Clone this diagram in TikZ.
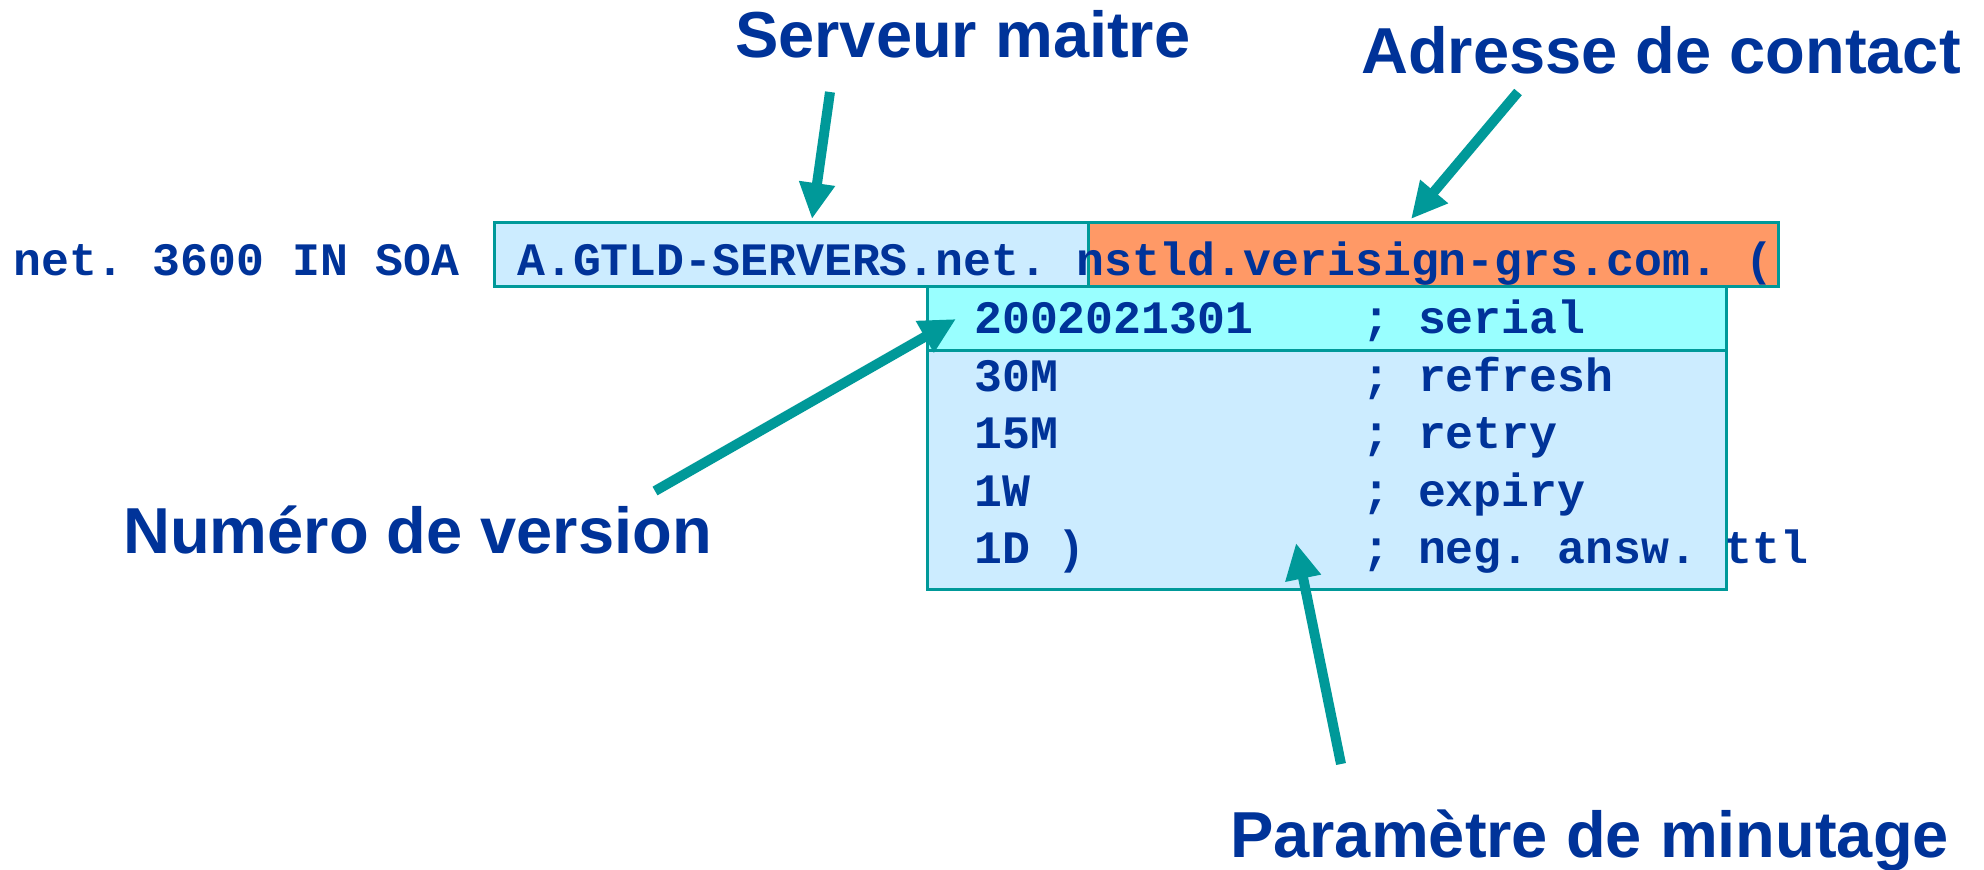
\documentclass[tikz,border=0pt]{standalone}
\usepackage{fontspec}
\setmainfont{Liberation Sans}
\newfontfamily\codefont{Liberation Mono}
\usetikzlibrary{arrows.meta}
\frenchspacing
\definecolor{inkblue}{HTML}{003399}
\definecolor{tealline}{HTML}{009999}
\definecolor{paleblue}{HTML}{CCECFF}
\definecolor{salmon}{HTML}{FF9966}
\definecolor{paleaqua}{HTML}{99FFFF}
\tikzset{
  field/.style={draw=tealline, line width=3pt, inner sep=0pt, anchor=north west},
  heading/.style={anchor=base west, inner sep=0pt, text=inkblue,
    font=\fontsize{65}{70}\selectfont\bfseries},
  code/.style={anchor=base west, inner sep=0pt, text=inkblue,
    font=\codefont\fontsize{46.5}{50}\selectfont\bfseries\frenchspacing},
  pointer/.style={draw=tealline, line width=10pt,
    -{Triangle[length=36pt,width=34pt,fill=tealline]}}
}
\begin{document}
\begin{tikzpicture}[x=1pt,y=-1pt]
\useasboundingbox (0,0) rectangle (1984,870);

% record fields
\node[field, fill=paleblue, minimum width=594pt, minimum height=64pt] (mname) at (493,221) {};
\node[field, fill=salmon, minimum width=690pt, minimum height=64pt] (rname) at (1087,221) {};
\node[field, fill=paleblue, minimum width=799pt, minimum height=239pt] (timers) at (926,349) {};
\node[field, fill=paleaqua, minimum width=799pt, minimum height=64pt] (serialbox) at (926,285) {};

% SOA record text
\node[code] (owner) at (13,275) {net. 3600 IN SOA};
\node[code] (mtext) at (517,275) {A.GTLD-SERVERS.net.};
\node[code] (rtext) at (1076,275) {nstld.verisign-grs.com. (};

\node[code] (v1) at (974,333) {2002021301};
\node[code] (c1) at (1362,333) {; serial};
\node[code] (v2) at (974,391) {30M};
\node[code] (c2) at (1362,391) {; refresh};
\node[code] (v3) at (974,448) {15M};
\node[code] (c3) at (1362,448) {; retry};
\node[code] (v4) at (974,506) {1W};
\node[code] (c4) at (1362,506) {; expiry};
\node[code] (v5) at (974,563) {1D )};
\node[code] (c5) at (1362,563) {; neg. answ. ttl};

% captions
\node[heading] (lmaster) at (735,57) {Serveur maitre};
\node[heading] (lcontact) at (1361,73) {Adresse de contact};
\node[heading] (lversion) at (123,553) {Numéro de version};
\node[heading] (ltimers) at (1230,857) {Paramètre de minutage};

% pointer ends
\coordinate (t1) at (830,92);
\coordinate (h1) at (812,219);
\coordinate (t2) at (1518,92);
\coordinate (h2) at (1411,219);
\coordinate (t3) at (655,491);
\coordinate (h3) at (956,319);
\coordinate (t4) at (1341,764);
\coordinate (h4) at (1296,543);

\draw[pointer] (t1) -- (h1);
\draw[pointer] (t2) -- (h2);
\draw[pointer] (t3) -- (h3);
\draw[pointer] (t4) -- (h4);
\end{tikzpicture}
\end{document}
